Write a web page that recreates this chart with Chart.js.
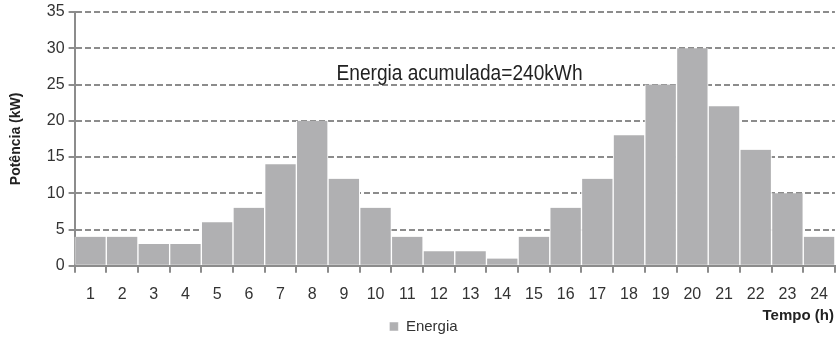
<!DOCTYPE html>
<html>
<head>
<meta charset="utf-8">
<script src="https://cdn.jsdelivr.net/npm/chart.js@4/dist/chart.umd.min.js"></script>
<style>
  html, body { margin: 0; padding: 0; background: #fff; }
  #wrap { width: 840px; height: 341px; }
</style>
</head>
<body>
<div id="wrap"><canvas id="myChart" width="840" height="341"></canvas></div>
<script>
// horas do dia e potência média em cada hora
var horas = ['1','2','3','4','5','6','7','8','9','10','11','12','13','14','15','16','17','18','19','20','21','22','23','24'];
var potencia = [4, 4, 3, 3, 6, 8, 14, 20, 12, 8, 4, 2, 2, 1, 4, 8, 12, 18, 25, 30, 22, 16, 10, 4];
var yTicks = [0, 5, 10, 15, 20, 25, 30, 35];
var nota = 'Energia acumulada=240kWh';
var tituloX = 'Tempo (h)';

// texto da energia acumulada e título do eixo x, posicionados pelas escalas
var notaPlugin = {
  id: 'nota',
  afterDatasetsDraw: function(chart) {
    var ctx = chart.ctx;
    var x = chart.scales.x.getPixelForValue(11.65);
    var y = chart.scales.y.getPixelForValue(26.4);
    ctx.save();
    ctx.font = '22px "Liberation Sans"';
    var w = ctx.measureText(nota).width;
    var k = 246 / w;
    ctx.translate(x, y);
    ctx.scale(k, 1);
    ctx.fillStyle = '#222';
    ctx.textAlign = 'center';
    ctx.textBaseline = 'middle';
    ctx.fillText(nota, 0, 0);
    ctx.restore();

    ctx.save();
    ctx.font = 'bold 15px "Liberation Sans"';
    ctx.fillStyle = '#222';
    ctx.textAlign = 'right';
    ctx.textBaseline = 'middle';
    ctx.fillText(tituloX, chart.chartArea.right - 1, chart.scales.y.getPixelForValue(0) + 50);
    ctx.restore();
  }
};

var ctx = document.getElementById('myChart').getContext('2d');
var myChart = new Chart(ctx, {
  type: 'bar',
  data: {
    labels: horas,
    datasets: [
      { label: 'Energia', data: potencia, backgroundColor: '#b0b0b2', borderColor: '#ffffff', borderWidth: { left: 1, right: 1, top: 0, bottom: 0 }, barPercentage: 1, categoryPercentage: 1 }
    ]
  },
  options: {
    responsive: false,
    animation: false,
    layout: { padding: { left: 8, right: 1, top: 0, bottom: -3 } },
    plugins: {
      legend: {
        position: 'bottom',
        labels: { boxWidth: 9, boxHeight: 9, color: '#333', font: { family: 'Liberation Sans', size: 15, lineHeight: 1 }, padding: 3 }
      },
      tooltip: { enabled: false }
    },
    scales: {
      x: {
        grid: { display: true, offset: true, drawOnChartArea: false, drawTicks: true, tickLength: 7, color: '#8c8c8c', lineWidth: 2 },
        border: { color: '#8c8c8c', width: 2 },
        ticks: { color: '#333', font: { family: 'Liberation Sans', size: 16 }, padding: 12, maxRotation: 0, autoSkip: false }
      },
      y: {
        min: 0,
        max: 35,
        afterBuildTicks: function(axis) { axis.ticks = yTicks.map(function(v) { return { value: v }; }); },
        grid: { color: '#8c8c8c', lineWidth: 2, tickLength: 6 },
        border: { color: '#8c8c8c', width: 2, dash: [6, 3] },
        ticks: { color: '#333', font: { family: 'Liberation Sans', size: 16, lineHeight: 1 }, padding: 4 },
        title: { display: true, text: 'Potência (kW)', color: '#222', font: { family: 'Liberation Sans', size: 14, weight: 'bold' }, padding: { top: 0, bottom: 18 } }
      }
    }
  },
  plugins: [notaPlugin]
});
</script>
</body>
</html>
